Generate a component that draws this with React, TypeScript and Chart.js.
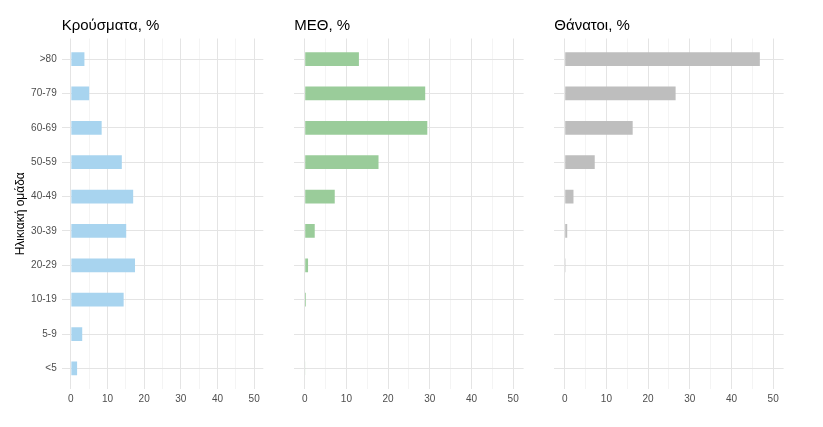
import { useEffect, useRef } from 'react';
import { Chart, registerables } from 'chart.js';

Chart.register(...registerables);

const ageGroups = ['<5', '5-9', '10-19', '20-29', '30-39', '40-49', '50-59', '60-69', '70-79', '>80'];
const casesPct = [1.7, 3.1, 14.4, 17.5, 15.1, 17.0, 13.9, 8.4, 5.0, 3.7];
const icuPct = [0.1, 0, 0.3, 0.8, 2.4, 7.2, 17.7, 29.4, 28.9, 13.0];
const deathsPct = [0, 0, 0, 0.2, 0.6, 2.1, 7.2, 16.3, 26.6, 46.8];
const xMajorTicks = [0, 10, 20, 30, 40, 50];
const xMinorTicks = [5, 15, 25, 35, 45];
const panelTitles = ['Κρούσματα, %', 'ΜΕΘ, %', 'Θάνατοι, %'];
const yAxisTitle = 'Ηλικιακή ομάδα';

const FONT = "'Liberation Sans', Arial, sans-serif";
const H = 427;

type Panel = {
  title: string;
  values: number[];
  color: string;
  left: number;
  width: number;
  yWidth: number;
  rightPad: number;
  showY: boolean;
};

const panels: Panel[] = [
  { title: panelTitles[0], values: casesPct, color: '#A8D4EF', left: 0, width: 274, yWidth: 61.7, rightPad: 10.7, showY: true },
  { title: panelTitles[1], values: icuPct, color: '#9ACC9A', left: 274, width: 274, yWidth: 20.3, rightPad: 24.4, showY: false },
  { title: panelTitles[2], values: deathsPct, color: '#BEBEBE', left: 548, width: 275, yWidth: 6.3, rightPad: 39.4, showY: false },
];

function PanelChart({ p }: { p: Panel }) {
  const ref = useRef<HTMLCanvasElement>(null);
  useEffect(() => {
    if (!ref.current) return;
    const decor = {
      id: 'decor',
      afterDraw(chart: any) {
        const { ctx, chartArea } = chart;
        ctx.save();
        ctx.fillStyle = '#000';
        ctx.font = `15px ${FONT}`;
        ctx.textAlign = 'left';
        ctx.textBaseline = 'alphabetic';
        ctx.fillText(p.title, chartArea.left, 29.5);
        if (p.showY) {
          ctx.translate(21, (chartArea.top + chartArea.bottom) / 2);
          ctx.rotate(-Math.PI / 2);
          ctx.textAlign = 'center';
          ctx.textBaseline = 'middle';
          ctx.font = `12px ${FONT}`;
          ctx.fillText(yAxisTitle, 0, 0);
        }
        ctx.restore();
      },
    };
    const chart = new Chart(ref.current, {
      type: 'bar',
      data: {
        datasets: [
          {
            data: p.values.map((v, i) => ({ x: v, y: i })),
            backgroundColor: p.color,
            borderWidth: 0,
            categoryPercentage: 1,
            barPercentage: 0.4,
          },
        ],
      },
      options: {
        indexAxis: 'y',
        responsive: false,
        animation: false,
        layout: { padding: { top: 38.5, right: p.rightPad, left: 0, bottom: 0 } },
        plugins: { legend: { display: false }, tooltip: { enabled: false }, title: { display: false } },
        scales: {
          x: {
            type: 'linear',
            min: -2.5,
            max: 52.5,
            offset: false,
            afterBuildTicks: (s: any) => {
              s.ticks = [...xMajorTicks, ...xMinorTicks].sort((a, b) => a - b).map((v) => ({ value: v }));
            },
            afterFit: (s: any) => {
              s.height = 38;
            },
            border: { display: false },
            grid: {
              offset: false,
              drawTicks: false,
              color: (c: any) => (xMajorTicks.includes(c.tick?.value) ? '#E4E4E4' : '#F1F1F1'),
              lineWidth: (c: any) => (xMajorTicks.includes(c.tick?.value) ? 1 : 0.8),
            },
            ticks: {
              autoSkip: false,
              maxRotation: 0,
              padding: 4,
              color: '#4D4D4D',
              font: { family: FONT, size: 10 },
              callback: (v: any) => (xMajorTicks.includes(Number(v)) ? String(v) : ''),
            },
          },
          y: {
            type: 'linear',
            min: -0.6,
            max: 9.6,
            offset: false,
            afterBuildTicks: (s: any) => {
              s.ticks = ageGroups.map((_, i) => ({ value: i }));
            },
            afterFit: (s: any) => {
              s.width = p.yWidth;
            },
            border: { display: false },
            grid: { offset: false, drawTicks: false, color: '#E4E4E4', lineWidth: 1 },
            ticks: {
              display: p.showY,
              autoSkip: false,
              padding: 5,
              color: '#4D4D4D',
              font: { family: FONT, size: 10 },
              callback: (v: any) => ageGroups[Number(v)] ?? '',
            },
          },
        },
      },
      plugins: [decor],
    } as any);
    return () => chart.destroy();
  }, [p]);
  return (
    <canvas
      ref={ref}
      width={p.width}
      height={H}
      style={{ position: 'absolute', left: p.left, top: 0, width: p.width, height: H }}
    />
  );
}

export default function App() {
  return (
    <div style={{ position: 'absolute', left: 0, top: 0, width: 823, height: H, background: '#fff' }}>
      {panels.map((p, i) => (
        <PanelChart key={i} p={p} />
      ))}
    </div>
  );
}
